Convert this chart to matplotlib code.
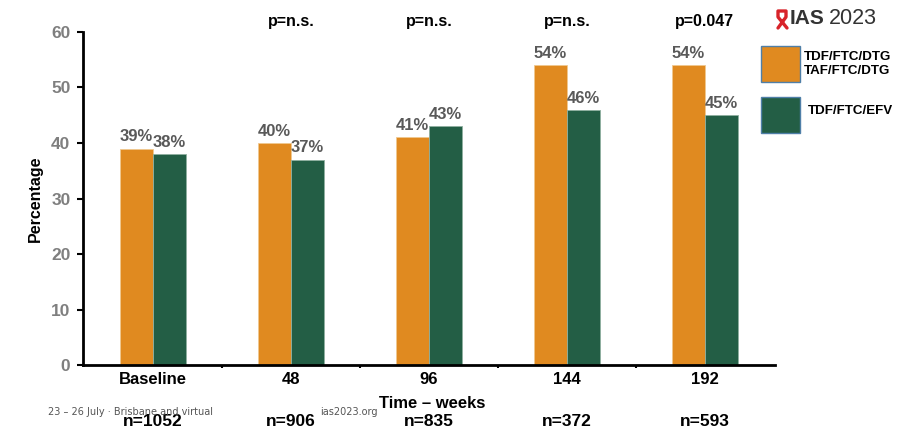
import numpy as np
import matplotlib.pyplot as plt
from matplotlib.patches import Rectangle
from matplotlib.lines import Line2D

plt.rcParams['font.family'] = ['Liberation Sans', 'DejaVu Sans']

# data
timepoints = ["Baseline", "48", "96", "144", "192"]
n_counts = ["n=1052", "n=906", "n=835", "n=372", "n=593"]
p_values = ["", "p=n.s.", "p=n.s.", "p=n.s.", "p=0.047"]
dtg_pct = [39, 40, 41, 54, 54]
efv_pct = [38, 37, 43, 46, 45]

orange = "#E08A20"
green = "#235E45"

fig = plt.figure(figsize=(9.1, 4.32), dpi=100)
ax = fig.add_axes([0.0912, 0.155, 0.7604, 0.771])

x = np.arange(len(timepoints))
w = 0.24
b1 = ax.bar(x - w / 2, dtg_pct, w, color=orange, edgecolor="#f0c890", linewidth=0.6)
b2 = ax.bar(x + w / 2, efv_pct, w, color=green, edgecolor="#8fb0a0", linewidth=0.6)

for bars, vals in ((b1, dtg_pct), (b2, efv_pct)):
    for b, v in zip(bars, vals):
        ax.annotate(f"{v}%", (b.get_x() + b.get_width() / 2, v),
                    xytext=(0, 3), textcoords="offset points",
                    ha="center", va="bottom", fontsize=12,
                    fontweight="bold", color="#595959")

for xi, p in zip(x, p_values):
    if p:
        ax.text(xi, 60.6, p, ha="center", va="bottom", fontsize=11.5,
                fontweight="bold", color="black", clip_on=False)

ax.set_xlim(-0.507, 4.507)
ax.set_ylim(0, 60)
ax.set_yticks(range(0, 61, 10))
ax.set_xticks(x)
ax.set_xticklabels(timepoints, fontsize=12, fontweight="bold")
ax.set_xticks(x[:-1] + 0.5, minor=True)
ax.tick_params(axis="x", which="major", length=0, pad=5)
ax.tick_params(axis="x", which="minor", length=2, width=1.5, direction="out")
ax.tick_params(axis="y", length=4, width=1.5, direction="out",
               labelsize=12.5, labelcolor="#7f7f7f", pad=5)
for lbl in ax.get_yticklabels():
    lbl.set_fontweight("bold")

for s in ("top", "right"):
    ax.spines[s].set_visible(False)
for s in ("left", "bottom"):
    ax.spines[s].set_linewidth(2)
    ax.spines[s].set_color("black")

ax.set_ylabel("Percentage", fontsize=11.5, fontweight="bold", labelpad=6)

# x axis title and sample sizes below the tick labels
fig.text(432 / 910, 1 - 403 / 432, "Time \u2013 weeks", ha="center", va="center",
         fontsize=12, fontweight="bold")
for xi, n in zip(x, n_counts):
    xf = fig.transFigure.inverted().transform(ax.transData.transform((xi, 0)))[0]
    fig.text(xf, 1 - 422 / 432, n, ha="center", va="center",
             fontsize=12.5, fontweight="bold")

# legend boxes
fig.patches.append(Rectangle((761 / 910, 1 - 82 / 432), 39 / 910, 36 / 432,
                             transform=fig.transFigure, facecolor=orange,
                             edgecolor="#4f7fa8", linewidth=1))
fig.patches.append(Rectangle((761 / 910, 1 - 133 / 432), 39 / 910, 36 / 432,
                             transform=fig.transFigure, facecolor=green,
                             edgecolor="#4f7fa8", linewidth=1))
fig.text(804 / 910, 1 - 64 / 432, "TDF/FTC/DTG\nTAF/FTC/DTG", ha="left",
         va="center", fontsize=9.6, fontweight="bold", linespacing=1.2)
fig.text(808 / 910, 1 - 111 / 432, "TDF/FTC/EFV", ha="left", va="center",
         fontsize=9.6, fontweight="bold")

# conference logo
fig.text(790 / 910, 1 - 19 / 432, "IAS", ha="left", va="center",
         fontsize=15, fontweight="bold", color="#333333")
fig.text(829 / 910, 1 - 19 / 432, "2023", ha="left", va="center",
         fontsize=15.5, color="#333333")
rx, ry = 782, 19
ribbon_x = [rx - 4, rx + 4, rx + 4, rx - 4, rx - 4, rx + 5]
ribbon_y = [ry + 9, ry - 2, ry - 8, ry - 8, ry - 2, ry + 9]
fig.add_artist(Line2D([v / 910 for v in ribbon_x], [1 - v / 432 for v in ribbon_y],
                      transform=fig.transFigure, color="#d8232a", linewidth=2.4,
                      solid_capstyle="round", solid_joinstyle="round"))

# footer
fig.text(48 / 910, 1 - 412 / 432, "23 \u2013 26 July \u00b7 Brisbane and virtual",
         ha="left", va="center", fontsize=7, color="#555555",
         family=["DejaVu Sans"])
fig.text(320 / 910, 1 - 412 / 432, "ias2023.org", ha="left", va="center",
         fontsize=7, color="#555555", family=["DejaVu Sans"])

fig.savefig("out.png", dpi=100)
